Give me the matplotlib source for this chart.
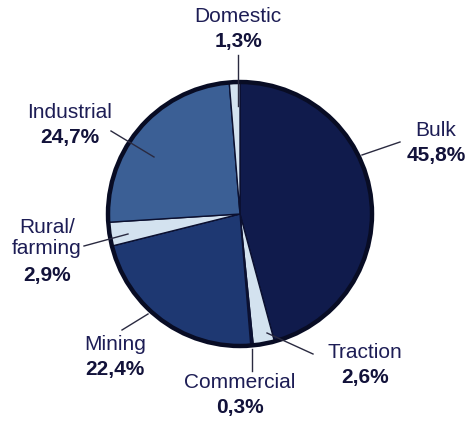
import matplotlib
matplotlib.use("Agg")
import matplotlib.pyplot as plt
from matplotlib.patches import Circle

plt.rcParams['font.family'] = ['Liberation Sans', 'DejaVu Sans']

# slices, clockwise from 12 o'clock
sectors = ["Bulk", "Traction", "Commercial", "Mining", "Rural/\nfarming", "Industrial", "Domestic"]
shares = [45.8, 2.6, 0.3, 22.4, 2.9, 24.7, 1.3]
share_labels = ["45,8%", "2,6%", "0,3%", "22,4%", "2,9%", "24,7%", "1,3%"]
colours = ["#101b4c", "#d3e2ef", "#0c1238", "#1e3872", "#d3e2ef", "#3b5f95", "#d3e2ef"]

W, H = 470, 421
cx, cy, R = 240, H - 214, 132

fig = plt.figure(figsize=(W / 100, H / 100), dpi=100)
ax = fig.add_axes([0, 0, 1, 1])

ax.pie(shares, colors=colours, startangle=90, counterclock=False,
       center=(cx, cy), radius=R, frame=True,
       wedgeprops=dict(edgecolor="#0b1030", linewidth=1.0))
ax.add_patch(Circle((cx, cy), R, fill=False, edgecolor="#080c24", linewidth=3.2, zorder=5))

# label text centre (x, y of name line) and leader line (text end, pie end), image pixels
label_pos = {
    "Bulk": (436, 130),
    "Traction": (365, 352),
    "Commercial": (240, 382),
    "Mining": (115, 344),
    "Rural/\nfarming": (47, 238),
    "Industrial": (70, 113),
    "Domestic": (238, 17),
}
leaders = {
    "Bulk": ((400, 142), (362, 155)),
    "Traction": ((313, 354), (267, 333)),
    "Commercial": ((252, 371), (252, 349)),
    "Mining": ((122, 330), (148, 314)),
    "Rural/\nfarming": ((84, 246), (128, 234)),
    "Industrial": ((111, 131), (154, 157)),
    "Domestic": ((238, 55), (238, 106)),
}

name_col = "#1d1d55"
pct_col = "#12123a"
for name, pct in zip(sectors, share_labels):
    x, y = label_pos[name]
    nlines = name.count("\n") + 1
    ax.text(x, H - y, name, ha='center', va='center', fontsize=15,
            color=name_col, linespacing=1.15)
    y_pct = y + 12 * (nlines - 1) + 25
    ax.text(x, H - y_pct, pct, ha='center', va='center', fontsize=15,
            fontweight='bold', color=pct_col)
    (x0, y0), (x1, y1) = leaders[name]
    ax.plot([x0, x1], [H - y0, H - y1], color="#2a2a40", linewidth=1.0, zorder=6)

ax.set_xlim(0, W)
ax.set_ylim(0, H)
ax.set_aspect('auto')
ax.axis('off')

fig.savefig("out.png", dpi=100, facecolor="white")
